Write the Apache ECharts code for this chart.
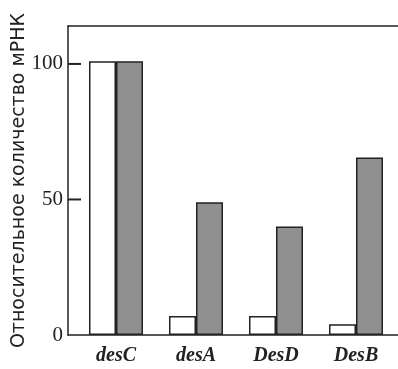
<!DOCTYPE html>
<html>
<head>
<meta charset="utf-8">
<script src="https://cdn.jsdelivr.net/npm/echarts@6/dist/echarts.min.js"></script>
<style>
  html, body { margin: 0; padding: 0; background: #fff; }
  #chart { width: 398px; height: 369px; }
</style>
</head>
<body>
<div id="chart"></div>
<script>
// Genes along the x axis
const categories = ['desC', 'desA', 'DesD', 'DesB'];
// Relative mRNA level, white bars
const whiteValues = [101, 7, 7, 4];
// Relative mRNA level, grey bars
const greyValues = [101, 49, 40, 65.5];
// Labelled ticks on the y axis
const yTicks = [0, 50, 100];

const ink = '#222';
const xMin = -0.6;
const xMax = 3.525;

const chart = echarts.init(document.getElementById('chart'), null, { renderer: 'canvas' });

const barStyle = (fill) => ({ color: fill, borderColor: ink, borderWidth: 1.5 });

chart.setOption({
  animation: false,
  backgroundColor: '#fff',
  grid: { left: 68, right: 0, top: 26, bottom: 34, containLabel: false, outerBoundsMode: 'none' },
  xAxis: [
    {
      type: 'value',
      min: xMin,
      max: xMax,
      position: 'bottom',
      splitLine: { show: false },
      axisLine: { show: true, onZero: false, lineStyle: { color: ink, width: 1.5 } },
      axisTick: { show: false },
      axisLabel: {
        customValues: categories.map((c, i) => i),
        formatter: (v) => categories[Math.round(v)],
        margin: 11,
        fontFamily: 'Liberation Serif',
        fontStyle: 'italic',
        fontWeight: 'bold',
        fontSize: 20,
        color: ink
      }
    },
    {
      type: 'value',
      min: xMin,
      max: xMax,
      position: 'top',
      splitLine: { show: false },
      axisLine: { show: true, onZero: false, lineStyle: { color: ink, width: 1.5 } },
      axisTick: { show: false },
      axisLabel: { show: false }
    }
  ],
  yAxis: {
    type: 'value',
    min: 0,
    max: 114,
    interval: 50,
    position: 'left',
    name: 'Относительное количество мРНК',
    nameLocation: 'middle',
    nameGap: 39,
    nameMoveOverlap: false,
    nameTextStyle: { fontFamily: 'DejaVu Sans', fontSize: 19, color: ink },
    splitLine: { show: false },
    axisLine: { show: true, onZero: false, lineStyle: { color: ink, width: 1.5 } },
    axisTick: { show: false },
    axisLabel: {
      showMaxLabel: false,
      formatter: (v) => (yTicks.indexOf(v) >= 0 ? String(v) : ''),
      margin: 5,
      fontFamily: 'Liberation Serif',
      fontSize: 21,
      color: ink
    }
  },
  series: [
    {
      type: 'bar',
      barWidth: 27,
      barGap: '0%',
      itemStyle: barStyle('#ffffff'),
      data: categories.map((c, i) => [i, whiteValues[i]])
    },
    {
      type: 'bar',
      barWidth: 27,
      barGap: '0%',
      itemStyle: barStyle('#909090'),
      data: categories.map((c, i) => [i, greyValues[i]])
    },
    // Inward tick marks on the y axis, placed through the axis scale
    {
      type: 'custom',
      clip: false,
      silent: true,
      z: 5,
      encode: { x: 0, y: 1 },
      data: yTicks.filter((v) => v > 0).map((v) => [xMin, v]),
      renderItem: (params, api) => {
        const p = api.coord([api.value(0), api.value(1)]);
        return {
          type: 'line',
          shape: { x1: p[0], y1: p[1], x2: p[0] + 13, y2: p[1] },
          style: { stroke: ink, lineWidth: 2 }
        };
      }
    }
  ]
});
</script>
</body>
</html>
